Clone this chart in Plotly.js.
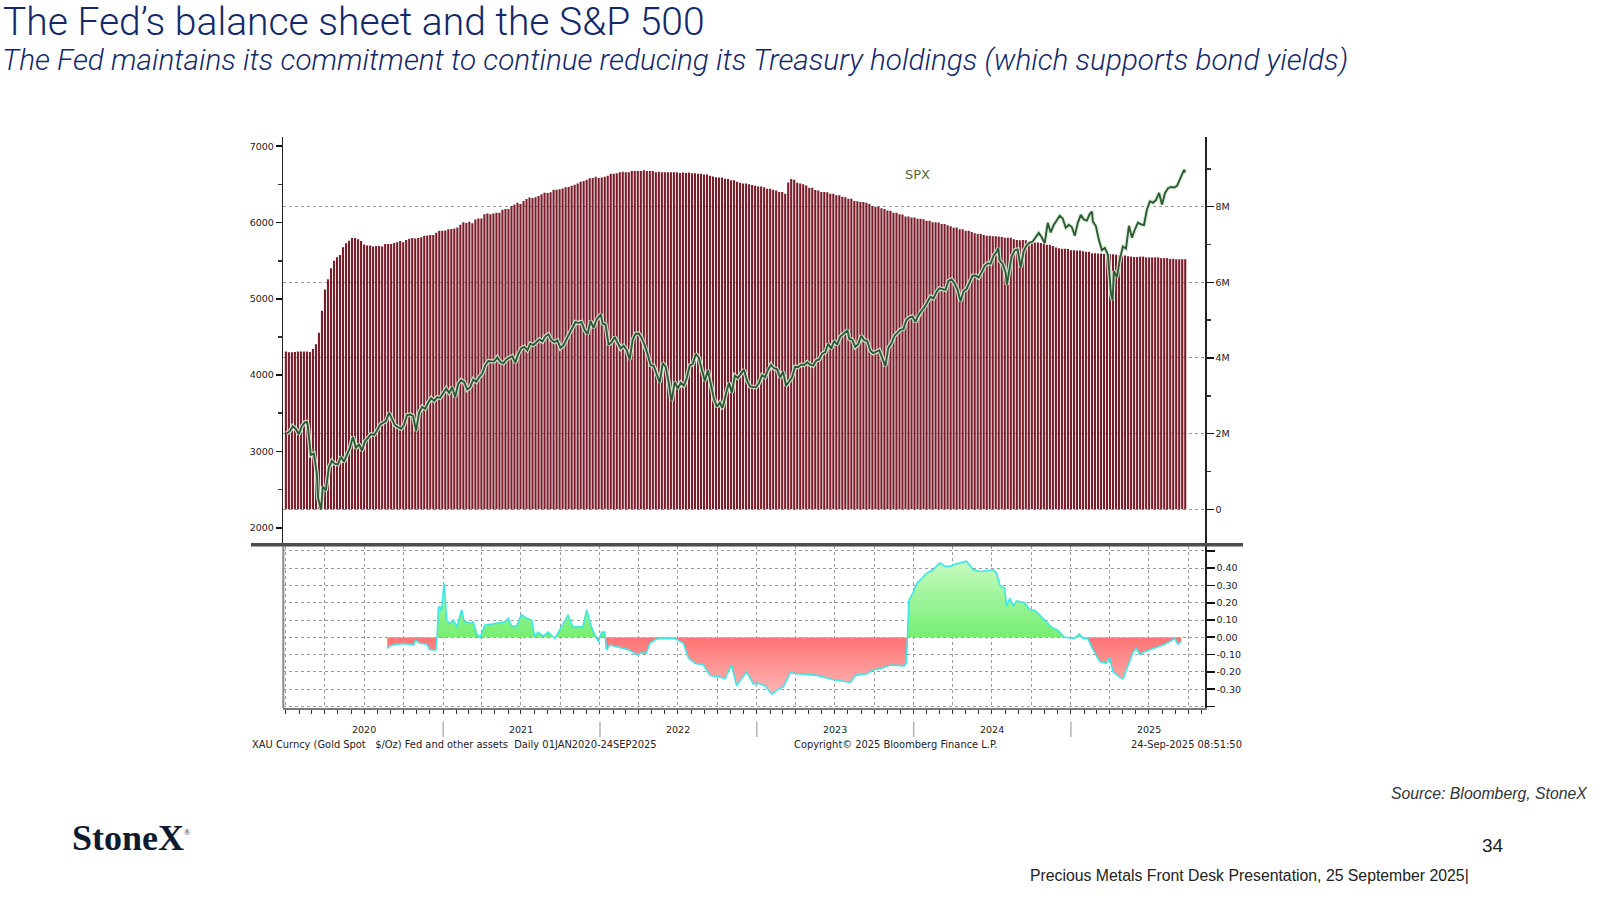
<!DOCTYPE html>
<html><head><meta charset="utf-8">
<script src="https://cdn.plot.ly/plotly-3.0.1.min.js"></script>
<style>html,body{margin:0;padding:0;background:#fff;}#chart{width:1600px;height:900px;}</style>
</head><body><div id="chart"></div>
<script>
// ---------- DATA ----------
// Fed total assets (weekly, Wednesdays from 2020-01-01), in million $ millions (axis "M")
const fedStart = '2020-01-01';
const fed2020 = [4.17,4.15,4.15,4.16,4.17, 4.17,4.17,4.17,4.16, 4.24,4.36,4.67,5.25, 5.81,6.08,6.37,6.57,6.66, 6.72,6.93,7.03,7.10, 7.17,7.17,7.14,7.09, 7.00,6.97,6.97,6.95,6.96, 6.96,6.95,7.01,7.01, 7.01,7.04,7.06,7.09,7.06, 7.12,7.15,7.17,7.16, 7.17,7.19,7.23,7.24, 7.25,7.25,7.31,7.36,7.36];
const fed2021 = [7.37,7.40,7.41,7.42, 7.45,7.52,7.59,7.57, 7.60,7.56,7.66,7.69,7.69, 7.80,7.82,7.80,7.82, 7.84,7.84,7.92,7.94, 7.94,8.02,8.06,8.10,8.07, 8.15,8.20,8.24,8.23, 8.25,8.28,8.33,8.37, 8.36,8.38,8.45,8.45,8.46, 8.48,8.51,8.52,8.55, 8.58,8.61,8.66,8.68, 8.71,8.75,8.76,8.79,8.76];
const fed2022 = [8.77,8.79,8.82,8.87, 8.87,8.88,8.91,8.92, 8.91,8.91,8.94,8.94,8.94, 8.94,8.96,8.94,8.94, 8.94,8.91,8.92,8.91, 8.91,8.91,8.91,8.91,8.91, 8.89,8.90,8.89,8.90, 8.88,8.88,8.87,8.87,8.85, 8.85,8.82,8.80,8.78, 8.77,8.77,8.74,8.73, 8.70,8.70,8.66,8.63,8.61, 8.61,8.59,8.57,8.55];
const fed2023 = [8.53,8.53,8.51,8.47, 8.47,8.45,8.43,8.39, 8.39,8.34,8.64,8.73,8.71, 8.63,8.61,8.59,8.56, 8.50,8.50,8.44,8.43,8.39, 8.39,8.38,8.34,8.34, 8.30,8.30,8.26,8.25, 8.21,8.21,8.15,8.14,8.12, 8.12,8.10,8.07,8.02, 8.00,8.00,7.96,7.94, 7.90,7.89,7.84,7.84,7.80, 7.79,7.74,7.74,7.71];
const fed2024 = [7.71,7.68,7.68,7.67,7.63, 7.63,7.59,7.59,7.58, 7.54,7.54,7.51,7.48, 7.44,7.45,7.40,7.40, 7.36,7.36,7.33,7.30,7.28, 7.28,7.25,7.23,7.23, 7.22,7.22,7.21,7.20,7.18, 7.18,7.18,7.14,7.12, 7.11,7.12,7.11,7.08, 7.05,7.05,7.05,7.04,7.01, 6.99,6.99,6.96,6.92, 6.90,6.89,6.89,6.88];
const fed2025 = [6.85,6.85,6.84,6.84,6.82, 6.81,6.81,6.77,6.77, 6.76,6.76,6.75,6.74, 6.74,6.74,6.73,6.71,6.71, 6.71,6.69,6.68,6.67, 6.67,6.68,6.68,6.66, 6.66,6.66,6.66,6.66,6.64, 6.64,6.64,6.62,6.62, 6.61,6.61,6.61,6.61];

// S&P 500 weekly closes (Fridays from 2020-01-03)
const spxStart = '2020-01-03';
const spx2020 = [3235,3265,3330,3295,3226, 3328,3380,3338,2954, 2972,2711,2305,2541, 2489,2790,2875,2837, 2831,2930,2864,2955,3044, 3194,3041,3098,3009, 3130,3185,3225,3216,3271, 3351,3373,3397,3508, 3427,3341,3319,3298, 3348,3477,3484,3465,3270, 3510,3585,3558,3638, 3699,3663,3709,3703,3756];
const spx2021 = [3825,3768,3841,3714, 3887,3934,3907,3811, 3842,3943,3913,3975, 4020,4129,4185,4180,4181, 4233,4174,4156,4204, 4230,4247,4166,4281, 4352,4370,4327,4412,4395, 4437,4468,4442,4509, 4535,4459,4433,4455, 4357,4391,4471,4545,4605, 4697,4683,4698,4595, 4538,4712,4620,4726,4766];
const spx2022 = [4677,4663,4398,4432, 4501,4419,4349,4385, 4329,4204,4463,4543, 4546,4488,4393,4272,4132, 4123,4024,3901,4158, 4109,3901,3675,3912, 3825,3899,3863,3962,4130, 4145,4280,4228,4057, 3924,4067,3873,3693,3586, 3640,3583,3752,3901, 3771,3993,3965,4026, 4072,3934,3852,3845,3840];
const spx2023 = [3895,3999,3973,4071, 4136,4090,4079,3970, 4046,3862,3917,3971,4109, 4105,4138,4133,4169, 4136,4124,4192,4205, 4282,4299,4410,4348,4450, 4399,4505,4536,4582, 4478,4464,4370,4406, 4516,4457,4450,4320,4288, 4309,4327,4224,4117, 4358,4415,4514,4559, 4595,4604,4719,4755,4770];
const spx2024 = [4697,4784,4840,4891, 4959,5027,5006,5089, 5137,5124,5117,5234,5254, 5204,5123,4967,5100, 5128,5223,5303,5305,5278, 5347,5431,5465,5460, 5567,5615,5505,5459, 5346,5344,5554,5635,5648, 5408,5626,5703,5738, 5751,5815,5864,5808, 5729,5996,5871,5969,6032, 6090,6051,5931,5971];
const spx2025 = [5942,5827,5997,6101,6041, 6026,6115,6013,5955, 5770,5639,5668,5581, 5074,5363,5283,5525, 5687,5660,5958,5803,5912, 6000,5977,5968,6173, 6279,6260,6297,6389, 6238,6389,6450,6467,6460, 6482,6584,6664];
// extra daily closes (extremes)
const spxExtraDates  = ['2020-02-19','2020-03-16','2020-03-23','2022-01-03','2022-06-16','2022-10-12','2023-07-31','2024-07-16','2024-08-05','2025-02-19','2025-04-08','2025-09-22','2025-09-23'];
const spxExtraValues = [3386,2386,2237,4797,3667,3577,4589,5667,5186,6144,4983,6693,6656];

// Lower panel: XAU vs Fed assets indicator
const corrDates = ['2020-08-24','2020-08-30','2020-09-07','2020-09-30','2020-10-12','2020-10-24','2020-10-29','2020-11-08','2020-11-24','2020-12-01','2020-12-15','2020-12-18','2020-12-21','2020-12-24','2020-12-28',
'2021-01-03','2021-01-06','2021-01-09','2021-01-17','2021-01-25','2021-02-02','2021-02-13','2021-02-19','2021-02-25','2021-03-05','2021-03-12','2021-03-20','2021-03-28','2021-04-08','2021-04-28','2021-05-13','2021-05-25','2021-06-02','2021-06-09','2021-06-21','2021-07-02','2021-07-14','2021-07-26','2021-08-02','2021-08-10','2021-08-22','2021-09-02','2021-09-18','2021-09-29','2021-10-19','2021-10-30','2021-11-22','2021-12-01','2021-12-12','2021-12-20','2021-12-28',
'2022-01-05','2022-01-12','2022-01-16','2022-01-24','2022-02-24','2022-03-12','2022-03-27','2022-04-08','2022-04-19','2022-04-27','2022-05-12','2022-06-24','2022-07-14','2022-07-26','2022-08-10','2022-08-30','2022-09-14','2022-10-07','2022-10-19','2022-11-03','2022-11-15','2022-12-08','2022-12-24',
'2023-01-04','2023-01-20','2023-02-05','2023-02-17','2023-03-04','2023-03-20','2023-04-04','2023-05-21','2023-06-29','2023-08-07','2023-08-19','2023-09-15','2023-09-27','2023-10-16','2023-11-09','2023-12-10','2023-12-15','2023-12-21','2023-12-31',
'2024-01-08','2024-01-31','2024-02-15','2024-03-02','2024-03-14','2024-03-25','2024-04-10','2024-05-03','2024-05-19','2024-06-03','2024-06-19','2024-07-04','2024-07-12','2024-07-20','2024-07-31','2024-08-04','2024-08-12','2024-08-20','2024-08-27','2024-09-16','2024-09-27','2024-10-09','2024-10-20','2024-11-01','2024-11-16','2024-12-02','2024-12-17',
'2025-01-09','2025-01-21','2025-01-29','2025-02-09','2025-02-21','2025-03-09','2025-03-24','2025-04-01','2025-04-09','2025-04-24','2025-05-02','2025-05-14','2025-05-25','2025-06-02','2025-06-10','2025-06-21','2025-07-11','2025-08-03','2025-08-19','2025-08-30','2025-09-07','2025-09-15'];
const corrValues = [-0.064,-0.05,-0.045,-0.035,-0.04,-0.045,-0.017,-0.035,-0.04,-0.072,-0.073,0.0,0.17,0.18,0.15,
0.31,0.22,0.10,0.08,0.10,0.06,0.16,0.09,0.09,0.08,0.09,0.02,0.0,0.07,0.08,0.085,0.09,0.11,0.065,0.065,0.13,0.11,0.10,0.005,0.03,0.005,0.03,-0.006,0.04,0.13,0.06,0.06,0.16,0.06,0.015,-0.025,
0.03,0.03,-0.073,-0.045,-0.064,-0.075,-0.10,-0.09,-0.092,-0.035,-0.01,-0.006,-0.035,-0.12,-0.15,-0.16,-0.22,-0.23,-0.24,-0.16,-0.28,-0.20,-0.27,
-0.265,-0.28,-0.328,-0.305,-0.285,-0.205,-0.21,-0.22,-0.245,-0.26,-0.22,-0.21,-0.19,-0.18,-0.16,-0.165,-0.15,0.215,0.26,
0.31,0.37,0.39,0.43,0.41,0.41,0.425,0.44,0.39,0.38,0.385,0.39,0.37,0.30,0.285,0.18,0.225,0.18,0.21,0.20,0.16,0.155,0.13,0.10,0.06,0.04,0.0,
-0.006,0.02,-0.006,-0.006,-0.07,-0.14,-0.15,-0.12,-0.20,-0.23,-0.24,-0.16,-0.09,-0.064,-0.10,-0.083,-0.064,-0.045,-0.025,-0.006,-0.04,-0.025];

// Axis ticks / labels
const spxTicks = [2000,3000,4000,5000,6000,7000];
const fedTicks = [0,2,4,6,8];
const fedTickText = ['0','2M','4M','6M','8M'];
const fedMinor = [1,3,5,7,9];
const corrTicks = [-0.3,-0.2,-0.1,0,0.1,0.2,0.3,0.4];
const corrTickText = ['-0.30','-0.20','-0.10','0.00','0.10','0.20','0.30','0.40'];
const corrEdgeTicks = [-0.4,0.5];
const years = [2020,2021,2022,2023,2024,2025];

// ---------- BUILD ----------
function weekly(start, n){const t0=Date.parse(start+'T00:00:00Z');const o=[];for(let i=0;i<n;i++)o.push(new Date(t0+i*7*864e5).toISOString().slice(0,10));return o;}
const fedVals = [].concat(fed2020,fed2021,fed2022,fed2023,fed2024,fed2025);
const fedDates = weekly(fedStart, fedVals.length);
const spxW = [].concat(spx2020,spx2021,spx2022,spx2023,spx2024,spx2025);
const spxWD = weekly(spxStart, spxW.length);
let spxPairs = spxWD.map((d,i)=>[d,spxW[i]]).concat(spxExtraDates.map((d,i)=>[d,spxExtraValues[i]]));
spxPairs.sort((a,b)=>a[0]<b[0]?-1:a[0]>b[0]?1:0);
const spxDates = spxPairs.map(p=>p[0]), spxVals = spxPairs.map(p=>p[1]);

const PX = x=>x/1600, PY = y=>1-y/900;
const xDom = [PX(283.3), PX(1205)];
const xRange = ['2019-12-26','2025-11-09'];
const topDom = [PY(544), PY(136.7)];
const botDom = [PY(708.3), PY(546)];
const tickFont = {family:'DejaVu Sans, sans-serif', size:9.5, color:'#222'};
const infoFont = {family:'DejaVu Sans, sans-serif', size:9.9, color:'#222'};
const navy = '#14296a';

const traces = [
  {type:'bar', x:fedDates, y:fedVals, xaxis:'x', yaxis:'y', marker:{color:'#7a1d2b', line:{width:0}}, hoverinfo:'skip'},
  {type:'scatter', mode:'lines', x:spxDates, y:spxVals, xaxis:'x', yaxis:'y3', line:{color:'rgba(215,235,215,0.9)', width:4.2}, hoverinfo:'skip'},
  {type:'scatter', mode:'lines', x:spxDates, y:spxVals, xaxis:'x', yaxis:'y3', line:{color:'#2d5a33', width:1.9}, hoverinfo:'skip'},
  {type:'scatter', mode:'lines', x:corrDates, y:corrValues, xaxis:'x2', yaxis:'y2', fill:'tozeroy',
   fillgradient:{type:'vertical', start:-0.4104, stop:0.5277,
     colorscale:[[0,'#ffc6c6'],[0.4361,'#ff7474'],[0.4363,'#74ef72'],[1,'#d6fbcf']]},
   line:{color:'#3fe6e6', width:1.6}, hoverinfo:'skip'}
];

const shapes = [
  {type:'line', xref:'paper', yref:'paper', x0:PX(251), x1:PX(1243), y0:PY(544.8), y1:PY(544.8), line:{color:'#4d4d4d', width:3.5}},
  {type:'line', xref:'paper', yref:'paper', x0:xDom[0], x1:xDom[0], y0:botDom[0], y1:botDom[1], line:{color:'#8a8a8a', width:2}}
];
years.slice(1).forEach(y=>shapes.push({type:'line', xref:'x2', yref:'paper', x0:y+'-01-01', x1:y+'-01-01', y0:PY(721.5), y1:PY(737), line:{color:'#b5b5b5', width:1.5}}));

const annotations = [
  {text:'The Fed maintains its commitment to continue reducing its Treasury holdings (which supports bond yields)', xref:'paper', yref:'paper', x:PX(0), y:PY(59), xanchor:'left', yanchor:'middle', showarrow:false,
   font:{family:'Roboto, sans-serif', size:29.7, color:navy, style:'italic', weight:300}},
  {text:'SPX', xref:'paper', yref:'paper', x:PX(917), y:PY(175), xanchor:'center', yanchor:'middle', showarrow:false, font:{family:'DejaVu Sans, sans-serif', size:13, color:'#56683a'}},
  {text:'XAU Curncy (Gold Spot\u00a0\u00a0 $/Oz) Fed and other assets\u00a0 Daily 01JAN2020-24SEP2025', xref:'paper', yref:'paper', x:PX(250), y:PY(744.5), xanchor:'left', yanchor:'middle', showarrow:false, font:infoFont},
  {text:'Copyright© 2025 Bloomberg Finance L.P.', xref:'paper', yref:'paper', x:PX(792), y:PY(744.5), xanchor:'left', yanchor:'middle', showarrow:false, font:infoFont},
  {text:'24-Sep-2025 08:51:50', xref:'paper', yref:'paper', x:PX(1244), y:PY(744.5), xanchor:'right', yanchor:'middle', showarrow:false, font:infoFont},
  {text:'<i>Source: Bloomberg, StoneX</i>', xref:'paper', yref:'paper', x:PX(1590), y:PY(793), xanchor:'right', yanchor:'middle', showarrow:false, font:{family:'Liberation Sans, Arial, sans-serif', size:15.8, color:'#333'}},
  {text:'34', xref:'paper', yref:'paper', x:PX(1493), y:PY(845), xanchor:'center', yanchor:'middle', showarrow:false, font:{family:'Liberation Sans, Arial, sans-serif', size:19, color:'#222'}},
  {text:'Precious Metals Front Desk Presentation, 25 September 2025|', xref:'paper', yref:'paper', x:PX(1471), y:PY(875), xanchor:'right', yanchor:'middle', showarrow:false, font:{family:'Liberation Sans, Arial, sans-serif', size:15.8, color:'#222'}},
  {text:'<b>StoneX</b><sup><span style="font-size:8px">®</span></sup>', xref:'paper', yref:'paper', x:PX(70), y:PY(838), xanchor:'left', yanchor:'middle', showarrow:false, font:{family:'Liberation Serif, serif', size:36, color:'#0f1a2e'}}
];
years.forEach(y=>annotations.push({text:String(y), xref:'x2', yref:'paper', x:y+'-07-01', y:PY(729), xanchor:'center', yanchor:'middle', showarrow:false, font:tickFont}));

const layout = {
  width:1600, height:900, margin:{l:0,r:0,t:0,b:0}, paper_bgcolor:'#fff', plot_bgcolor:'#fff', showlegend:false,
  bargap:0.3,
  title:{text:'The Fed’s balance sheet and the S&P 500', x:PX(3), xanchor:'left', xref:'paper', y:PY(21), yanchor:'middle', yref:'paper',
    font:{family:'Roboto, sans-serif', size:39, color:navy, weight:300}},
  xaxis:{domain:xDom, range:xRange, type:'date', anchor:'y', showgrid:false, showticklabels:false, ticks:'', zeroline:false, showline:false},
  yaxis:{domain:topDom, range:[-0.917,9.849], side:'right', anchor:'x', tickmode:'array', tickvals:fedTicks, ticktext:fedTickText,
    showgrid:true, gridcolor:'#9a9a9a', griddash:'dot', gridwidth:1, zeroline:false,
    ticks:'outside', ticklen:7, tickwidth:1.6, tickcolor:'#111', showline:true, linecolor:'#222', linewidth:1.5, tickfont:tickFont,
    minor:{tickmode:'array', tickvals:fedMinor, ticks:'outside', ticklen:4, tickcolor:'#333', showgrid:false}},
  yaxis3:{overlaying:'y', side:'left', anchor:'x', range:[1786.6,7125.7], tickmode:'array', tickvals:spxTicks,
    showgrid:false, zeroline:false, ticks:'outside', ticklen:6, tickwidth:1.6, tickcolor:'#111', showline:true, linecolor:'#222', linewidth:1.5, tickfont:tickFont,
    minor:{dtick:500, tick0:0, ticks:'outside', ticklen:4, tickcolor:'#333', showgrid:false}},
  xaxis2:{domain:xDom, range:xRange, type:'date', anchor:'y2', dtick:'M3', tick0:'2020-01-01', showticklabels:false,
    showgrid:true, gridcolor:'#9a9a9a', griddash:'dot', gridwidth:1, ticks:'outside', ticklen:4, tickcolor:'#333',
    showline:true, linecolor:'#7a7a7a', linewidth:2, zeroline:false,
    minor:{dtick:'M1', tick0:'2020-01-01', ticks:'outside', ticklen:4, tickcolor:'#333', showgrid:false}},
  yaxis2:{domain:botDom, range:[-0.4104,0.5277], side:'right', anchor:'x2', tickmode:'array', tickvals:corrTicks, ticktext:corrTickText,
    showgrid:true, gridcolor:'#9a9a9a', griddash:'dot', gridwidth:1, zeroline:false,
    ticks:'outside', ticklen:8, tickwidth:1.6, tickcolor:'#111', showline:true, linecolor:'#222', linewidth:1.5, tickfont:tickFont,
    minor:{tickmode:'array', tickvals:corrEdgeTicks, ticks:'outside', ticklen:8, tickwidth:1.6, tickcolor:'#111', showgrid:true, gridcolor:'#9a9a9a', griddash:'dot', gridwidth:1}},
  shapes:shapes, annotations:annotations
};
Plotly.newPlot('chart', traces, layout, {displayModeBar:false, staticPlot:true});
</script></body></html>
